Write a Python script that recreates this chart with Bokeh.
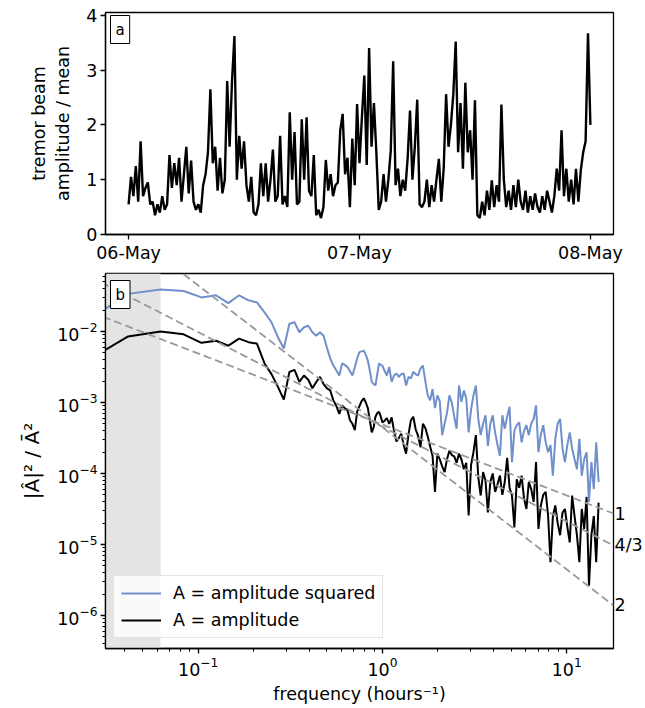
import numpy as np
from bokeh.plotting import figure
from bokeh.layouts import column
from bokeh.models import (FixedTicker, Label, Legend, LegendItem, BoxAnnotation, Range1d,
                          LinearAxis)
from bokeh.embed import file_html
from bokeh.resources import INLINE

FONT = "DejaVu Sans"
FS = "17.5px"

# ---------------- Panel a: tremor beam amplitude / mean, 15-min samples ----------------
step_hours = 0.25
tremor = [
    0.55, 1.05, 0.70, 1.25,  0.60, 1.70, 0.70, 0.85,  0.95, 0.55, 0.60, 0.35,
    0.55, 0.40, 0.70, 0.45,  0.55, 1.45, 0.85, 1.30,  0.90, 1.40, 0.60, 1.10,
    1.60, 0.75, 1.35, 0.60,  0.45, 0.55, 0.40, 0.90,  1.10, 1.50, 2.65, 1.30,
    1.60, 0.80, 1.40, 0.75,  1.00, 2.80, 1.60, 2.80,  3.62, 1.00, 1.80, 1.20,
    1.70, 0.90, 0.60, 1.05,  0.40, 0.35, 0.55, 1.30,  0.70, 1.30, 0.60, 1.00,
    1.55, 0.60, 0.70, 1.80,  0.55, 0.70, 0.50, 2.23,  1.00, 1.87, 0.55, 0.60,
    2.10, 1.00, 2.14, 0.80,  0.70, 1.45, 0.35, 0.45,  0.30, 0.50, 1.36, 0.80,
    1.10, 0.70, 0.90, 0.95,  1.90, 2.20, 1.10, 1.40,  0.50, 1.75, 0.90, 2.38,
    1.30, 2.14, 2.90, 1.27,  3.40, 1.60, 2.40, 1.50,  0.45, 0.60, 1.10, 0.60,
    1.00, 1.53, 3.16, 0.90,  1.20, 0.70, 1.00, 0.80,  1.38, 2.26, 1.00, 1.60,
    2.46, 0.55, 0.50, 0.60,  1.00, 0.50, 0.90, 0.60,  1.00, 1.38, 0.60, 1.20,
    2.56, 1.60, 2.00, 2.56,  3.52, 1.50, 2.40, 1.20,  2.77, 1.50, 1.90, 1.00,
    2.45, 0.35, 0.30, 0.60,  0.35, 0.80, 0.45, 0.99,  0.50, 0.90, 0.60, 2.37,
    1.00, 0.50, 0.80, 0.45,  0.90, 0.50, 1.00, 0.60,  0.45, 0.80, 0.40, 0.70,
    0.45, 0.75, 0.50, 0.40,  0.70, 0.45, 0.80, 0.60,  0.40, 0.70, 1.20, 0.80,
    1.90, 0.70, 1.20, 0.60,  1.00, 0.55, 1.20, 0.60,  1.17, 1.50, 1.70, 3.67,
    2.00,
]
hours = np.arange(len(tremor)) * step_hours
date_ticks = [0, 24, 48]
date_labels = ["06-May", "07-May", "08-May"]
amp_ticks = [0, 1, 2, 3, 4]

# ---------------- Panel b: spectra (log10 of |A^|^2 / mean(A)^2) ----------------
record_hours = 48
black_low_log = [
    -2.53, -2.07, -2.00, -2.04, -2.16, -2.13, -2.20, -2.10, -2.15, -2.17,
    -2.45, -2.60, -2.78, -2.96, -2.57, -2.54, -2.71, -2.62, -2.68, -2.80,
    -2.71, -2.64, -2.74, -2.80, -2.83, -2.97, -3.05, -3.16, -3.04, -3.08,
    -3.11, -3.25, -3.30, -3.39, -3.13, -3.05, -2.98, -2.94, -3.00, -3.08,
    -3.25, -3.42, -3.35, -3.20, -3.15, -3.13, -3.20, -3.28,
]
blue_low_log = [
    -1.98, -1.47, -1.41, -1.43, -1.52, -1.49, -1.60, -1.49, -1.56, -1.59,
    -1.73, -1.87, -2.08, -2.24, -1.89, -1.87, -2.01, -1.94, -1.92, -2.01,
    -2.06, -2.01, -2.06, -2.23, -2.38, -2.48, -2.55, -2.62, -2.45, -2.47,
    -2.50, -2.56, -2.62, -2.50, -2.38, -2.29, -2.28, -2.27, -2.33, -2.41,
    -2.55, -2.71, -2.74, -2.76, -2.60, -2.45, -2.47, -2.48,
]
black_high_log = [
    -3.26, -3.22, -3.30, -3.21, -3.40, -3.55, -3.50, -3.44, -3.60, -3.72,
    -3.45, -3.25, -3.20, -3.38, -3.47, -3.63, -3.30, -3.36, -3.48, -3.62,
    -3.75, -4.26, -3.72, -3.80, -3.90, -3.98, -3.80, -3.68, -3.74, -3.76,
    -3.85, -3.72, -3.80, -3.94, -3.85, -4.59, -3.88, -3.70, -3.46, -4.05,
    -4.31, -3.98, -4.10, -4.55, -4.12, -4.00, -4.26, -4.15, -4.03, -4.30,
    -4.12, -3.78, -4.20, -4.31, -4.76, -4.08, -4.20, -4.03, -4.35, -4.50,
    -4.12, -4.22, -4.40, -3.84, -4.78, -4.45, -4.30, -4.26, -4.59, -5.25,
    -4.60, -4.45, -4.70, -4.87, -4.55, -4.50, -4.75, -4.97, -4.31, -4.60,
    -4.87, -5.25, -4.50, -4.78, -4.33, -5.58, -4.87, -4.60, -5.25, -4.41,
]
blue_high_log = [
    -2.55, -2.62, -2.50, -2.71, -2.62, -2.59, -2.64, -2.60, -2.59, -2.76,
    -2.64, -2.66, -2.57, -2.60, -2.62, -2.52, -2.48, -2.70, -2.90, -2.97,
    -2.81, -3.08, -2.90, -2.98, -3.46, -3.30, -3.15, -2.90, -3.00, -3.20,
    -3.37, -2.76, -2.99, -2.83, -2.94, -3.42, -3.10, -2.90, -2.76, -3.23,
    -3.46, -3.30, -3.18, -3.61, -3.30, -3.18, -3.42, -3.60, -3.75, -3.18,
    -3.37, -3.20, -3.06, -3.84, -3.40, -3.32, -3.28, -3.56, -3.40, -3.32,
    -3.46, -3.30, -3.23, -3.04, -3.70, -3.45, -3.32, -3.56, -3.70, -3.60,
    -4.03, -3.51, -3.30, -3.23, -3.65, -3.84, -3.60, -3.42, -3.65, -3.80,
    -3.94, -3.51, -4.03, -3.80, -3.70, -4.40, -3.84, -4.22, -3.56, -4.12,
]
high_f_start, high_f_end = 1.025, 14.9   # hours^-1
low_cut = 1 / 16                          # shaded band upper edge
slopes = [1, 4 / 3, 2]
slope_labels = ["1", "4/3", "2"]
level_at_f1 = [4.9e-4, 4.55e-4, 4.46e-4]
series_names = ["A = amplitude squared", "A = amplitude"]
series_colors = ["#7090cb", "black"]

freq_low = np.arange(1, len(black_low_log) + 1) / record_hours
freq_high = np.geomspace(high_f_start, high_f_end, len(black_high_log))
freq = np.concatenate([freq_low, freq_high])
black_spec = 10 ** np.array(black_low_log + black_high_log)
blue_spec = 10 ** np.array(blue_low_log + blue_high_log)


def style(p):
    p.outline_line_color = "black"
    p.outline_line_width = 1.3
    p.outline_line_alpha = 1
    p.grid.visible = False
    p.background_fill_color = "white"
    p.border_fill_color = "white"
    for ax in p.axis:
        ax.axis_line_width = 1.3
        ax.axis_line_color = "black"
        ax.major_tick_line_width = 1.3
        ax.minor_tick_line_width = 1
        ax.major_tick_in = 0
        ax.major_tick_out = 5
        ax.minor_tick_in = 0
        ax.minor_tick_out = 3
        ax.major_label_text_font = FONT
        ax.major_label_text_font_size = FS
        ax.major_label_text_color = "black"
        ax.major_label_standoff = 3
        ax.axis_label_text_font = FONT
        ax.axis_label_text_font_size = FS
        ax.axis_label_text_font_style = "normal"
        ax.axis_label_text_color = "black"


def panel_tag(p, text, y):
    p.add_layout(Label(x=5, y=y, x_units="screen", y_units="screen", text=text,
                       text_font=FONT, text_font_size="15px", text_baseline="bottom",
                       text_color="black", border_line_color="black",
                       border_line_width=1, background_fill_color="white", padding=5))


# ----- top figure -----
p1 = figure(width=645, height=265, output_backend="svg", toolbar_location=None,
            x_range=Range1d(-2.4, 50.4), y_range=Range1d(0, 4.05),
            min_border_left=105, min_border_right=28, min_border_top=12,
            min_border_bottom=28)
p1.line(hours, tremor, line_color="black", line_width=2.4)
style(p1)
p1.xaxis.ticker = FixedTicker(ticks=date_ticks)
p1.xaxis.major_label_overrides = {t: l for t, l in zip(date_ticks, date_labels)}
p1.yaxis.ticker = FixedTicker(ticks=amp_ticks)
p1.yaxis.axis_label = "tremor beam\namplitude / mean"
p1.yaxis.axis_label_standoff = 10
panel_tag(p1, "a", 191)

# ----- bottom figure -----
p2 = figure(width=645, height=443, output_backend="svg", toolbar_location=None,
            x_axis_type="log", y_axis_type="log",
            x_range=Range1d(10 ** -1.503, 10 ** 1.254),
            y_range=Range1d(10 ** -6.465, 10 ** -1.183),
            min_border_left=105, min_border_right=28, min_border_top=8,
            min_border_bottom=60)
p2.add_layout(BoxAnnotation(right=low_cut, fill_color="#e5e4e3", fill_alpha=1,
                            line_alpha=0, level="underlay"))
r_blue = p2.line(freq, blue_spec, line_color=series_colors[0], line_width=2)
r_black = p2.line(freq, black_spec, line_color=series_colors[1], line_width=2)

x_end = 10 ** 1.254
end_levels = []
for s, c in zip(slopes, level_at_f1):
    fx = np.array([0.02, x_end])
    p2.line(fx, c * fx ** (-s), line_color="#999999", line_width=1.8, line_dash="8 4")
    end_levels.append(float(c * x_end ** (-s)))

# slope labels as tick labels of an extra right-hand axis
slope_axis = LinearAxis(ticker=FixedTicker(ticks=end_levels, minor_ticks=[]),
                        major_label_overrides={v: l for v, l in zip(end_levels, slope_labels)})
p2.add_layout(slope_axis, "right")
style(p2)
slope_axis.axis_line_color = None
slope_axis.major_tick_line_color = None
slope_axis.minor_tick_line_color = None
slope_axis.major_tick_out = 0
slope_axis.major_label_standoff = 1

p2.xaxis[0].axis_label = "frequency (hours\u207b\u00b9)"
p2.yaxis[0].axis_label = "|\u00c2|\u00b2 / \u0100\u00b2"
p2.yaxis[0].axis_label_text_font_size = "20px"
p2.yaxis[0].axis_label_standoff = 10
panel_tag(p2, "b", 340)

legend = Legend(items=[LegendItem(label=series_names[0], renderers=[r_blue]),
                       LegendItem(label=series_names[1], renderers=[r_black])],
                location=(8, 10), label_text_font=FONT, label_text_font_size=FS,
                label_text_color="black", label_standoff=12,
                glyph_width=40, glyph_height=20, label_height=20, spacing=7,
                padding=7, margin=0, border_line_color="#cccccc",
                background_fill_alpha=0.8)
p2.add_layout(legend)

layout = column(p1, p2)
open("out.html", "w").write(file_html(layout, INLINE))
